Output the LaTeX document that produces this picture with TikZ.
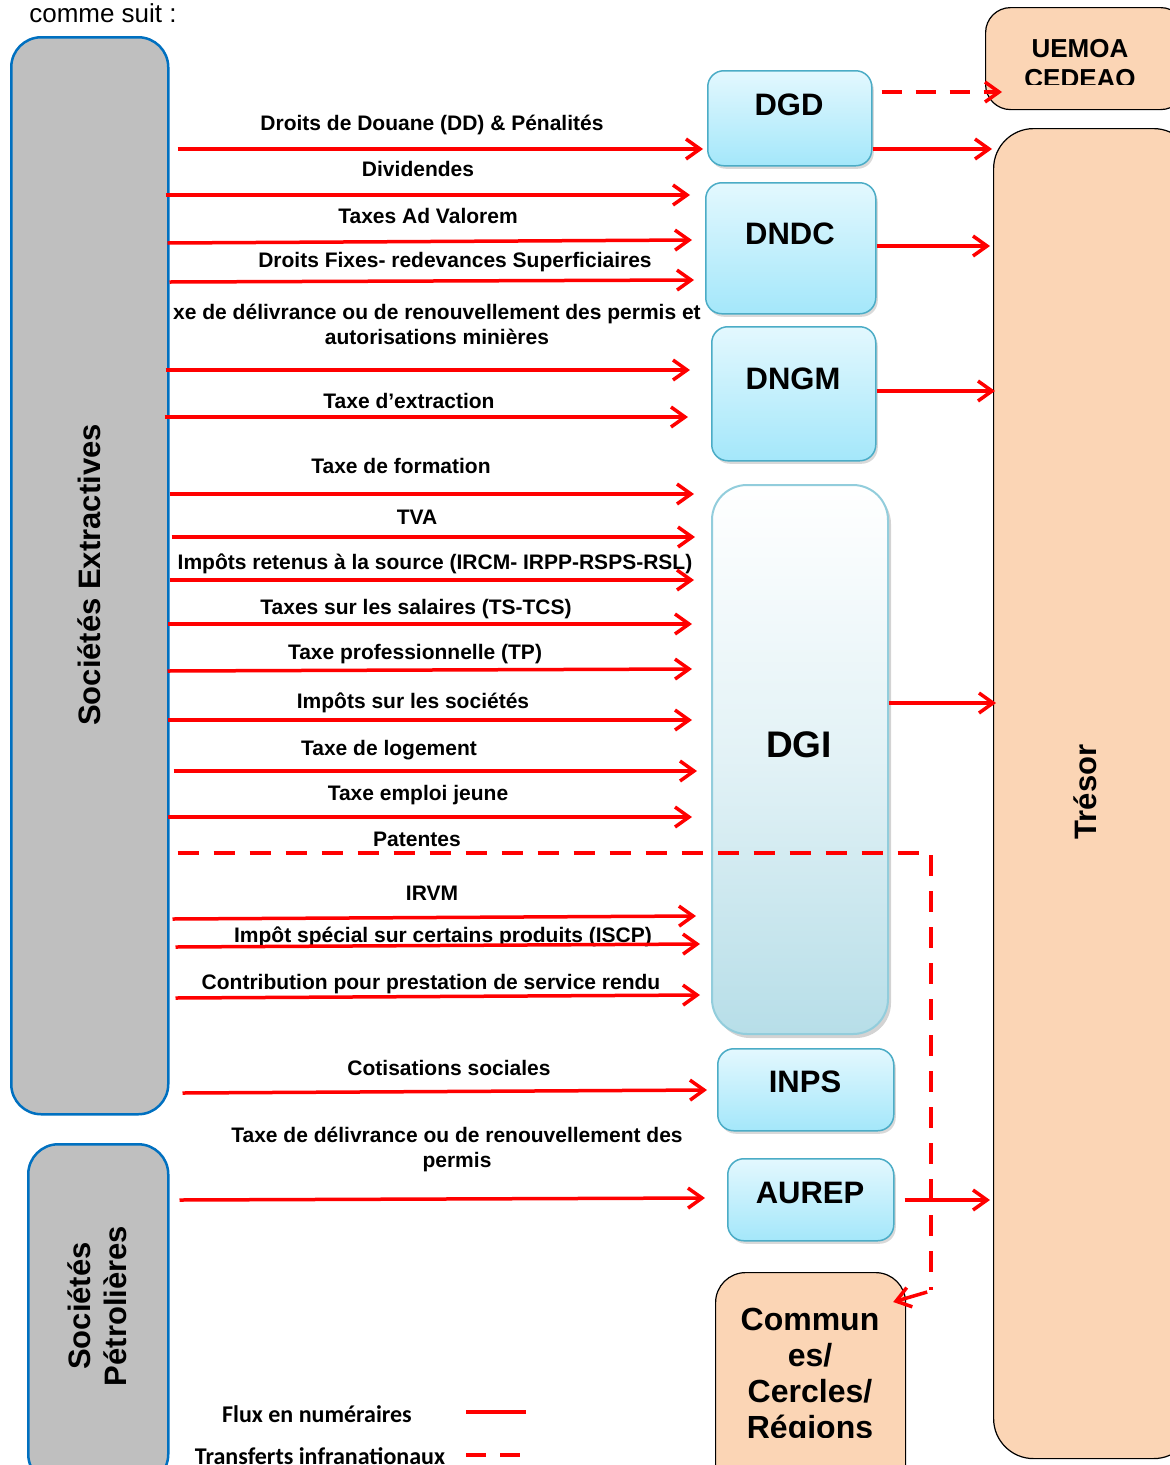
\documentclass[tikz,border=0pt]{standalone}
\usepackage{fontspec}
\setmainfont{Liberation Sans}
\newfontfamily\carl{Carlito}
\usetikzlibrary{arrows.meta,shadows}
\definecolor{flowred}{HTML}{FF0000}
\definecolor{agborder}{HTML}{4BACC6}
\definecolor{agtop}{HTML}{E3F8FE}
\definecolor{agbot}{HTML}{A4E7FA}
\definecolor{dgiborder}{HTML}{92CDDC}
\definecolor{dgibot}{HTML}{B7DEE8}
\definecolor{peach}{HTML}{FBD5B5}
\definecolor{grayfill}{HTML}{BFBFBF}
\definecolor{seblue}{HTML}{0070C0}
\begin{document}
\begin{tikzpicture}[x=1pt,y=-1pt,
  flow/.style={draw=flowred, line width=3.5pt, -{Straight Barb[length=14pt,width=20pt]}},
  transfer/.style={draw=flowred, line width=3.5pt, dash pattern=on 21pt off 15pt},
  lbl/.style={font=\bfseries\fontsize{21}{25}\selectfont, align=center, anchor=base, inner sep=0pt},
  agency/.style={draw=agborder, line width=1.5pt, rounded corners=16pt, top color=agtop, bottom color=agbot,
     drop shadow={shadow xshift=2pt, shadow yshift=-3pt, opacity=0.3}, anchor=north west, inner sep=0pt},
  agtext/.style={font=\bfseries\fontsize{31}{36}\selectfont, inner sep=0pt, anchor=base},
  company/.style={draw=seblue, line width=2.5pt, fill=grayfill, rounded corners=30pt, anchor=north west, inner sep=0pt},
  peachbox/.style={draw=black, line width=1.2pt, fill=peach, anchor=north west, inner sep=0pt},
  bigtxt/.style={font=\bfseries\fontsize{31}{36}\selectfont, inner sep=0pt, align=center}
]
\useasboundingbox (0,0) rectangle (1170,1465);
\clip (0,0) rectangle (1170,1465);

% heading
\node[font=\fontsize{26}{30}\selectfont, inner sep=0pt, anchor=base] (head) at (103,22) {comme suit :};

% companies
\node[company, minimum width=157pt, minimum height=1077pt] (SE) at (10,36) {};
\node[bigtxt, rotate=90] (tSE) at (89,575) {Sociétés Extractives};
\node[company, minimum width=140pt, minimum height=340pt] (SP) at (27,1143) {};
\node[bigtxt, rotate=90] (tSP) at (97,1306) {Sociétés\\Pétrolières};

% destination boxes
\node[peachbox, rounded corners=25pt, minimum width=200pt, minimum height=102pt] (UEMOA) at (985,7) {};
\begin{scope}
\clip (985,7) rectangle (1170,84);
\node[font=\bfseries\fontsize{26}{30}\selectfont, align=center, anchor=base, inner sep=0pt] (tUEMOA) at (1080,87) {UEMOA\\CEDEAO};
\end{scope}
\node[peachbox, rounded corners=40pt, minimum width=200pt, minimum height=1330pt] (Tresor) at (993,128) {};
\node[bigtxt, rotate=90] (tTresor) at (1085,792) {Trésor};
\node[peachbox, rounded corners=30pt, minimum width=190pt, minimum height=230pt] (Communes) at (715,1272) {};
\begin{scope}
\clip (715,1272) rectangle (905,1437);
\node[font=\bfseries\fontsize{32}{36}\selectfont, align=center, anchor=base, inner sep=0pt] (tCommunes) at (810,1438) {Commun\\es/\\Cercles/\\Régions};
\end{scope}

% agencies
\node[agency, minimum width=164pt, minimum height=95pt] (DGD) at (707,70) {};
\node[agtext] (tDGD) at (789,115) {DGD};
\node[agency, minimum width=170pt, minimum height=131pt] (DNDC) at (705,182) {};
\node[agtext] (tDNDC) at (790,244) {DNDC};
\node[agency, minimum width=164pt, minimum height=134pt] (DNGM) at (711,326) {};
\node[agtext] (tDNGM) at (793,389) {DNGM};
\node[draw=dgiborder, line width=2pt, rounded corners=35pt, top color=white, bottom color=dgibot, middle color=white!60!dgibot,
   drop shadow={shadow xshift=3pt, shadow yshift=-4pt, opacity=0.35}, anchor=north west, inner sep=0pt,
   minimum width=176pt, minimum height=549pt] (DGI) at (711,484) {};
\node[agtext, font=\bfseries\fontsize{37}{40}\selectfont] (tDGI) at (799,757) {DGI};
\node[agency, minimum width=176pt, minimum height=82pt] (INPS) at (717,1048) {};
\node[agtext] (tINPS) at (805,1092) {INPS};
\node[agency, minimum width=166pt, minimum height=82pt] (AUREP) at (727,1158) {};
\node[agtext] (tAUREP) at (810,1203) {AUREP};

% labels
\node[lbl] (l1) at (432,130) {Droits de Douane (DD) \& Pénalités};
\node[lbl] (l2) at (418,176) {Dividendes};
\node[lbl] (l3) at (428,223) {Taxes Ad Valorem};
\node[lbl] (l4) at (455,267) {Droits Fixes- redevances Superficiaires};
\node[lbl] (l5) at (437,344) {xe de délivrance ou de renouvellement des permis et\\autorisations minières};
\node[lbl] (l6) at (409,408) {Taxe d’extraction};
\node[lbl] (l7) at (401,473) {Taxe de formation};
\node[lbl] (l8) at (417,524) {TVA};
\node[lbl] (l9) at (435,569) {Impôts retenus à la source (IRCM- IRPP-RSPS-RSL)};
\node[lbl] (l10) at (416,614) {Taxes sur les salaires (TS-TCS)};
\node[lbl] (l11) at (415,659) {Taxe professionnelle (TP)};
\node[lbl] (l12) at (413,708) {Impôts sur les sociétés};
\node[lbl] (l13) at (389,755) {Taxe de logement};
\node[lbl] (l14) at (418,800) {Taxe emploi jeune};
\node[lbl] (l15) at (417,846) {Patentes};
\node[lbl] (l16) at (432,900) {IRVM};
\node[lbl] (l17) at (443,942) {Impôt spécial sur certains produits (ISCP)};
\node[lbl] (l18) at (431,989) {Contribution pour prestation de service rendu};
\node[lbl] (l19) at (449,1075) {Cotisations sociales};
\node[lbl] (l20) at (457,1167) {Taxe de délivrance ou de renouvellement des\\permis};

% flows from companies
\draw[flow] ([xshift=8]SE.east |- 0,149) -- ([xshift=-4]DGD.west |- 0,149);
\draw[flow] ([xshift=-4]SE.east |- 0,195) -- ([xshift=-15]DNDC.west |- 0,195);
\draw[flow] ([xshift=-2]SE.east |- 0,243) -- ([xshift=-13]DNDC.west |- 0,240);
\draw[flow] (SE.east |- 0,282) -- ([xshift=-11]DNDC.west |- 0,280);
\draw[flow] ([xshift=-4]SE.east |- 0,370) -- ([xshift=-21]DNGM.west |- 0,370);
\draw[flow] ([xshift=-5]SE.east |- 0,417) -- ([xshift=-23]DNGM.west |- 0,417);
\draw[flow] (SE.east |- 0,494) -- ([xshift=-17]DGI.west |- 0,494);
\draw[flow] ([xshift=2]SE.east |- 0,537) -- ([xshift=-16]DGI.west |- 0,537);
\draw[flow] (SE.east |- 0,580) -- ([xshift=-17]DGI.west |- 0,580);
\draw[flow] ([xshift=-2]SE.east |- 0,624) -- ([xshift=-19]DGI.west |- 0,624);
\draw[flow] ([xshift=-2]SE.east |- 0,671) -- ([xshift=-19]DGI.west |- 0,669);
\draw[flow] ([xshift=-2]SE.east |- 0,720) -- ([xshift=-19]DGI.west |- 0,720);
\draw[flow] ([xshift=4]SE.east |- 0,771) -- ([xshift=-14]DGI.west |- 0,771);
\draw[flow] ([xshift=-2]SE.east |- 0,817) -- ([xshift=-19]DGI.west |- 0,817);
\draw[flow] ([xshift=3]SE.east |- 0,919) -- ([xshift=-15]DGI.west |- 0,916);
\draw[flow] ([xshift=6]SE.east |- 0,947) -- ([xshift=-11]DGI.west |- 0,944);
\draw[flow] ([xshift=6]SE.east |- 0,998) -- ([xshift=-11]DGI.west |- 0,995);
\draw[flow] ([xshift=13]SE.east |- 0,1093) -- ([xshift=-10]INPS.west |- 0,1090);
\draw[flow] ([xshift=10]SP.east |- 0,1200) -- ([xshift=-22]AUREP.west |- 0,1198);

% Patentes transfer
\draw[transfer] ([xshift=8]SE.east |- 0,853) -| ([xshift=25]Communes.east |- 0,1290);
\draw[flow] ([xshift=21]Communes.east |- 0,1292) -- ([xshift=-13]Communes.east |- 0,1302);

% flows to Tresor
\draw[flow] (DGD.east |- 0,149) -- ([xshift=-1]Tresor.west |- 0,149);
\draw[flow] (DNDC.east |- 0,246) -- ([xshift=-3]Tresor.west |- 0,246);
\draw[flow] (DNGM.east |- 0,391) -- ([xshift=2]Tresor.west |- 0,391);
\draw[flow] (DGI.east |- 0,703) -- ([xshift=3]Tresor.west |- 0,703);
\draw[flow] ([xshift=10]AUREP.east |- 0,1200) -- ([xshift=-3]Tresor.west |- 0,1200);
\draw[transfer, dash pattern=on 20pt off 14pt, -{Straight Barb[length=14pt,width=20pt]}] ([xshift=9]DGD.east |- 0,92) -- ([xshift=17]UEMOA.west |- 0,92);

% legend
\node[font=\carl\bfseries\fontsize{24}{28}\selectfont, inner sep=0pt, anchor=base] (lg1) at (317,1422) {Flux en numéraires};
\node[font=\carl\bfseries\fontsize{24}{28}\selectfont, inner sep=0pt, anchor=base] (lg2) at (320,1464) {Transferts infranationaux};
\coordinate (lg1a) at (466,1412);
\coordinate (lg1b) at (526,1412);
\coordinate (lg2a) at (466,1455);
\coordinate (lg2b) at (525,1455);
\draw[draw=flowred, line width=4pt] (lg1a) -- (lg1b);
\draw[draw=flowred, line width=4pt, dash pattern=on 20pt off 14pt] (lg2a) -- (lg2b);
\end{tikzpicture}
\end{document}
